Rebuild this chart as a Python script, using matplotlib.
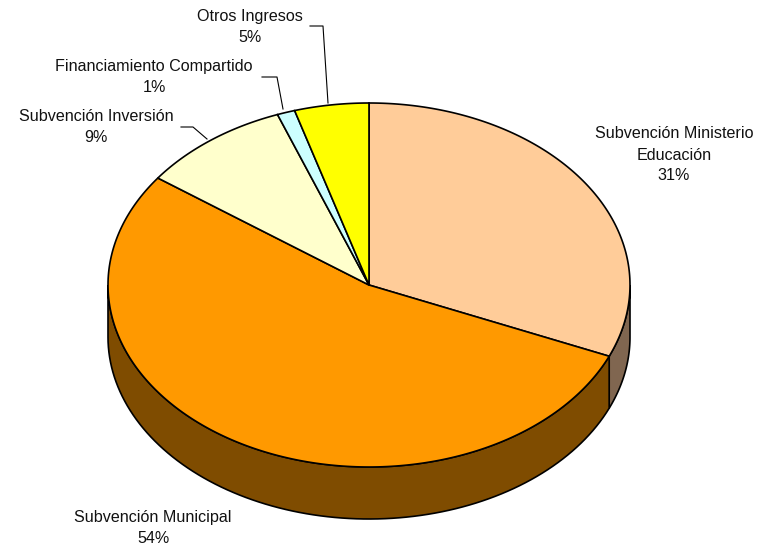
import numpy as np
import matplotlib
matplotlib.use("Agg")
import matplotlib.pyplot as plt
from matplotlib.patches import Polygon

plt.rcParams['font.family'] = ['Liberation Sans', 'DejaVu Sans']

# datos del grafico (porcentajes)
categorias = ['Subvención Ministerio\nEducación', 'Subvención Municipal',
              'Subvención Inversión', 'Financiamiento Compartido', 'Otros Ingresos']
valores = [31.4, 53.6, 9.3, 1.1, 4.6]
colores = ['#FFCC99', '#FF9900', '#FFFFCC', '#CCFFFF', '#FFFF00']
colores_lado = ['#806650', '#7F4C00', '#80806A', '#6A8080', '#808000']

# geometria (pixeles)
cx, cy, rx, ry, prof = 369, 285, 261, 182, 52
pos_txt = [(674, 155), (153, 528), (96, 127), (154, 77), (250, 27)]
guias = [None, None,
         [(181, 127), (193, 127), (207, 139)],
         [(262, 77), (277, 77), (283, 109)],
         [(310, 26), (323, 26), (328, 103)]]

fig = plt.figure(figsize=(7.63, 5.46), dpi=100)
ax = fig.add_axes([0, 0, 1, 1])
ax.set_xlim(0, 763)
ax.set_ylim(546, 0)
ax.axis('off')


def punto(t, dy=0):
    r = np.radians(t)
    return cx + rx * np.sin(r), cy - ry * np.cos(r) + dy


total = float(sum(valores))
angulos = np.concatenate([[0], np.cumsum(valores) / total * 360])

# lados (solo la mitad frontal, 90..270)
for i in range(len(valores)):
    a, b = max(angulos[i], 90), min(angulos[i + 1], 270)
    if b <= a:
        continue
    ts = np.linspace(a, b, 100)
    arriba = [punto(t) for t in ts]
    abajo = [punto(t, prof) for t in ts[::-1]]
    ax.add_patch(Polygon(arriba + abajo, closed=True, fc=colores_lado[i],
                         ec='black', lw=1.2, zorder=1))

# tapas
for i in range(len(valores)):
    ts = np.linspace(angulos[i], angulos[i + 1], 200)
    pts = [(cx, cy)] + [punto(t) for t in ts]
    ax.add_patch(Polygon(pts, closed=True, fc=colores[i], ec='black',
                         lw=1.2, zorder=2))

# etiquetas
for i in range(len(valores)):
    txt = '%s\n%.0f%%' % (categorias[i], valores[i])
    ax.text(pos_txt[i][0], pos_txt[i][1], txt, ha='center', va='center',
            fontsize=11.6, linespacing=1.5, color='#111111', zorder=3)
    if guias[i]:
        xs, ys = zip(*guias[i])
        ax.plot(xs, ys, color='black', lw=0.8, zorder=3)

fig.savefig('out.png', dpi=100)
